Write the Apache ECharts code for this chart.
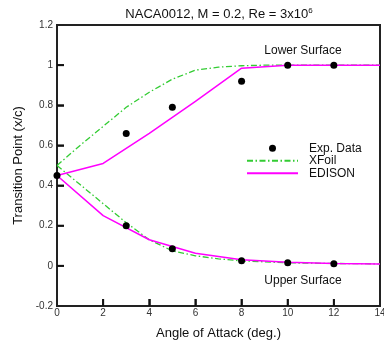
<!DOCTYPE html>
<html>
<head>
<meta charset="utf-8">
<script src="https://cdn.jsdelivr.net/npm/echarts@6/dist/echarts.min.js"></script>
<style>
  html, body { margin: 0; padding: 0; background: #fff; }
  #chart { width: 384px; height: 343px; }
</style>
</head>
<body>
<div id="chart"></div>
<script>
// Angle of attack (deg.) for each data set
const aoaExp = [0, 3, 5, 8, 10, 12];
const aoaXfoil = [0, 1, 2, 3, 4, 5, 6, 7, 8, 9, 10, 12, 14];
const aoaEdison = [0, 2, 4, 6, 8, 10, 12, 14];

// Transition point x/c — "lower" is the curve going to 1, "upper" the one going to 0
const expLower = [0.45, 0.66, 0.79, 0.92, 1.0, 1.0];
const expUpper = [0.45, 0.20, 0.085, 0.025, 0.015, 0.01];
const xfoilLower = [0.5, 0.6, 0.695, 0.79, 0.865, 0.93, 0.975, 0.99, 0.997, 1.0, 1.0, 1.0, 1.0];
const xfoilUpper = [0.5, 0.405, 0.31, 0.215, 0.13, 0.075, 0.05, 0.035, 0.025, 0.02, 0.015, 0.012, 0.01];
const edisonLower = [0.45, 0.51, 0.66, 0.82, 0.985, 1.0, 1.0, 1.0];
const edisonUpper = [0.45, 0.25, 0.13, 0.063, 0.031, 0.018, 0.012, 0.009];

// inner tick marks along the bottom and left edges of the frame
const xTicks = [2, 4, 6, 8, 10, 12];
const yTicks = [0, 0.2, 0.4, 0.6, 0.8, 1.0];
const X_MIN = 0, Y_MIN = -0.2;

const FONT = "'Liberation Sans', Arial, sans-serif";
const GREEN = "#33cc33";
const MAGENTA = "#ff00ff";
const FRAME = "#222";
const TICK_LEN = 7;

const pairs = (xs, ys) => xs.map((x, i) => [x, ys[i]]);

const xfoilLine = (data) => ({
  name: "XFoil", type: "line", data, symbol: "none", color: GREEN,
  lineStyle: { color: GREEN, width: 1.3, type: [6, 2.5, 1.5, 2.5] },
  z: 2,
});
const edisonLine = (data) => ({
  name: "EDISON", type: "line", data, symbol: "none", color: MAGENTA,
  lineStyle: { color: MAGENTA, width: 1.5 },
  z: 3,
});

// axisTick didn't show on the frame edges, so the ticks are drawn by custom series
// placed through the axis scales (api.coord)
const tickSeries = (name, data, vertical) => ({
  name, type: "custom", clip: false, silent: true, z: 6,
  data,
  encode: { x: 0, y: 1 },
  renderItem: (params, api) => {
    const p = api.coord([api.value(0), api.value(1)]);
    return {
      type: "line",
      z2: 10,
      shape: vertical
        ? { x1: p[0], y1: p[1], x2: p[0], y2: p[1] - TICK_LEN }
        : { x1: p[0], y1: p[1], x2: p[0] + TICK_LEN, y2: p[1] },
      style: { stroke: "#111", lineWidth: 2 },
    };
  },
});

const axisTick = { show: true, inside: true, length: TICK_LEN, lineStyle: { color: FRAME, width: 1.5 } };

const chart = echarts.init(document.getElementById("chart"), null, { renderer: "canvas" });
chart.setOption({
  animation: false,
  textStyle: { fontFamily: FONT },
  grid: {
    left: 57, right: 4, top: 25, bottom: 37,
    outerBoundsMode: "none", // keep the plot box exactly where the grid says
    show: true, borderColor: FRAME, borderWidth: 2, backgroundColor: "transparent",
  },
  graphic: [
    {
      type: "text", x: 219, y: 14, z: 10,
      style: {
        text: "NACA0012, M = 0.2, Re = 3x10{sup|6}",
        font: "13px " + FONT, fill: "#111",
        textAlign: "center", textVerticalAlign: "middle",
        rich: { sup: { fontSize: 8, verticalAlign: "top", padding: [0, 0, 7, 0] } },
      },
    },
    {
      type: "text", x: 303, y: 51,
      style: { text: "Lower Surface", font: "12px " + FONT, fill: "#111", textAlign: "center", textVerticalAlign: "middle" },
    },
    {
      type: "text", x: 303, y: 281,
      style: { text: "Upper Surface", font: "12px " + FONT, fill: "#111", textAlign: "center", textVerticalAlign: "middle" },
    },
  ],
  legend: {
    orient: "vertical",
    left: 246, top: 142,
    padding: 0, itemGap: 0,
    itemWidth: 51, itemHeight: 7,
    data: [
      { name: "Exp. Data" },
      // line series get a circle symbol in the legend by default; hide it
      { name: "XFoil", itemStyle: { opacity: 0 } },
      { name: "EDISON", itemStyle: { opacity: 0 } },
    ],
    textStyle: { fontSize: 12, lineHeight: 12.5, color: "#111", fontFamily: FONT, padding: [0, 0, 0, 6] },
  },
  xAxis: {
    type: "value", min: X_MIN, max: 14, interval: 2,
    name: "Angle of Attack (deg.)", nameLocation: "middle", nameGap: 21,
    nameTextStyle: { fontSize: 13, color: "#111" },
    axisLine: { show: true, onZero: false, lineStyle: { color: FRAME, width: 2 } },
    axisTick,
    axisLabel: { fontSize: 10, color: "#333", margin: 2 },
    splitLine: { show: false },
  },
  yAxis: {
    type: "value", min: Y_MIN, max: 1.2, interval: 0.2,
    name: "Transition Point (x/c)", nameLocation: "middle", nameGap: 32,
    nameTextStyle: { fontSize: 13, color: "#111" },
    axisLine: { show: true, onZero: false, lineStyle: { color: FRAME, width: 2 } },
    axisTick,
    axisLabel: { fontSize: 10, color: "#333", margin: 4 },
    splitLine: { show: false },
  },
  series: [
    xfoilLine(pairs(aoaXfoil, xfoilLower)),
    xfoilLine(pairs(aoaXfoil, xfoilUpper)),
    edisonLine(pairs(aoaEdison, edisonLower)),
    edisonLine(pairs(aoaEdison, edisonUpper)),
    {
      name: "Exp. Data", type: "scatter", symbol: "circle", symbolSize: 7,
      itemStyle: { color: "#000", opacity: 1 }, z: 5,
      data: pairs(aoaExp, expLower).concat(pairs(aoaExp, expUpper).slice(1)),
    },
    tickSeries("xTicks", xTicks.map((v) => [v, Y_MIN]), true),
    tickSeries("yTicks", yTicks.map((v) => [X_MIN, v]), false),
  ],
});
</script>
</body>
</html>
